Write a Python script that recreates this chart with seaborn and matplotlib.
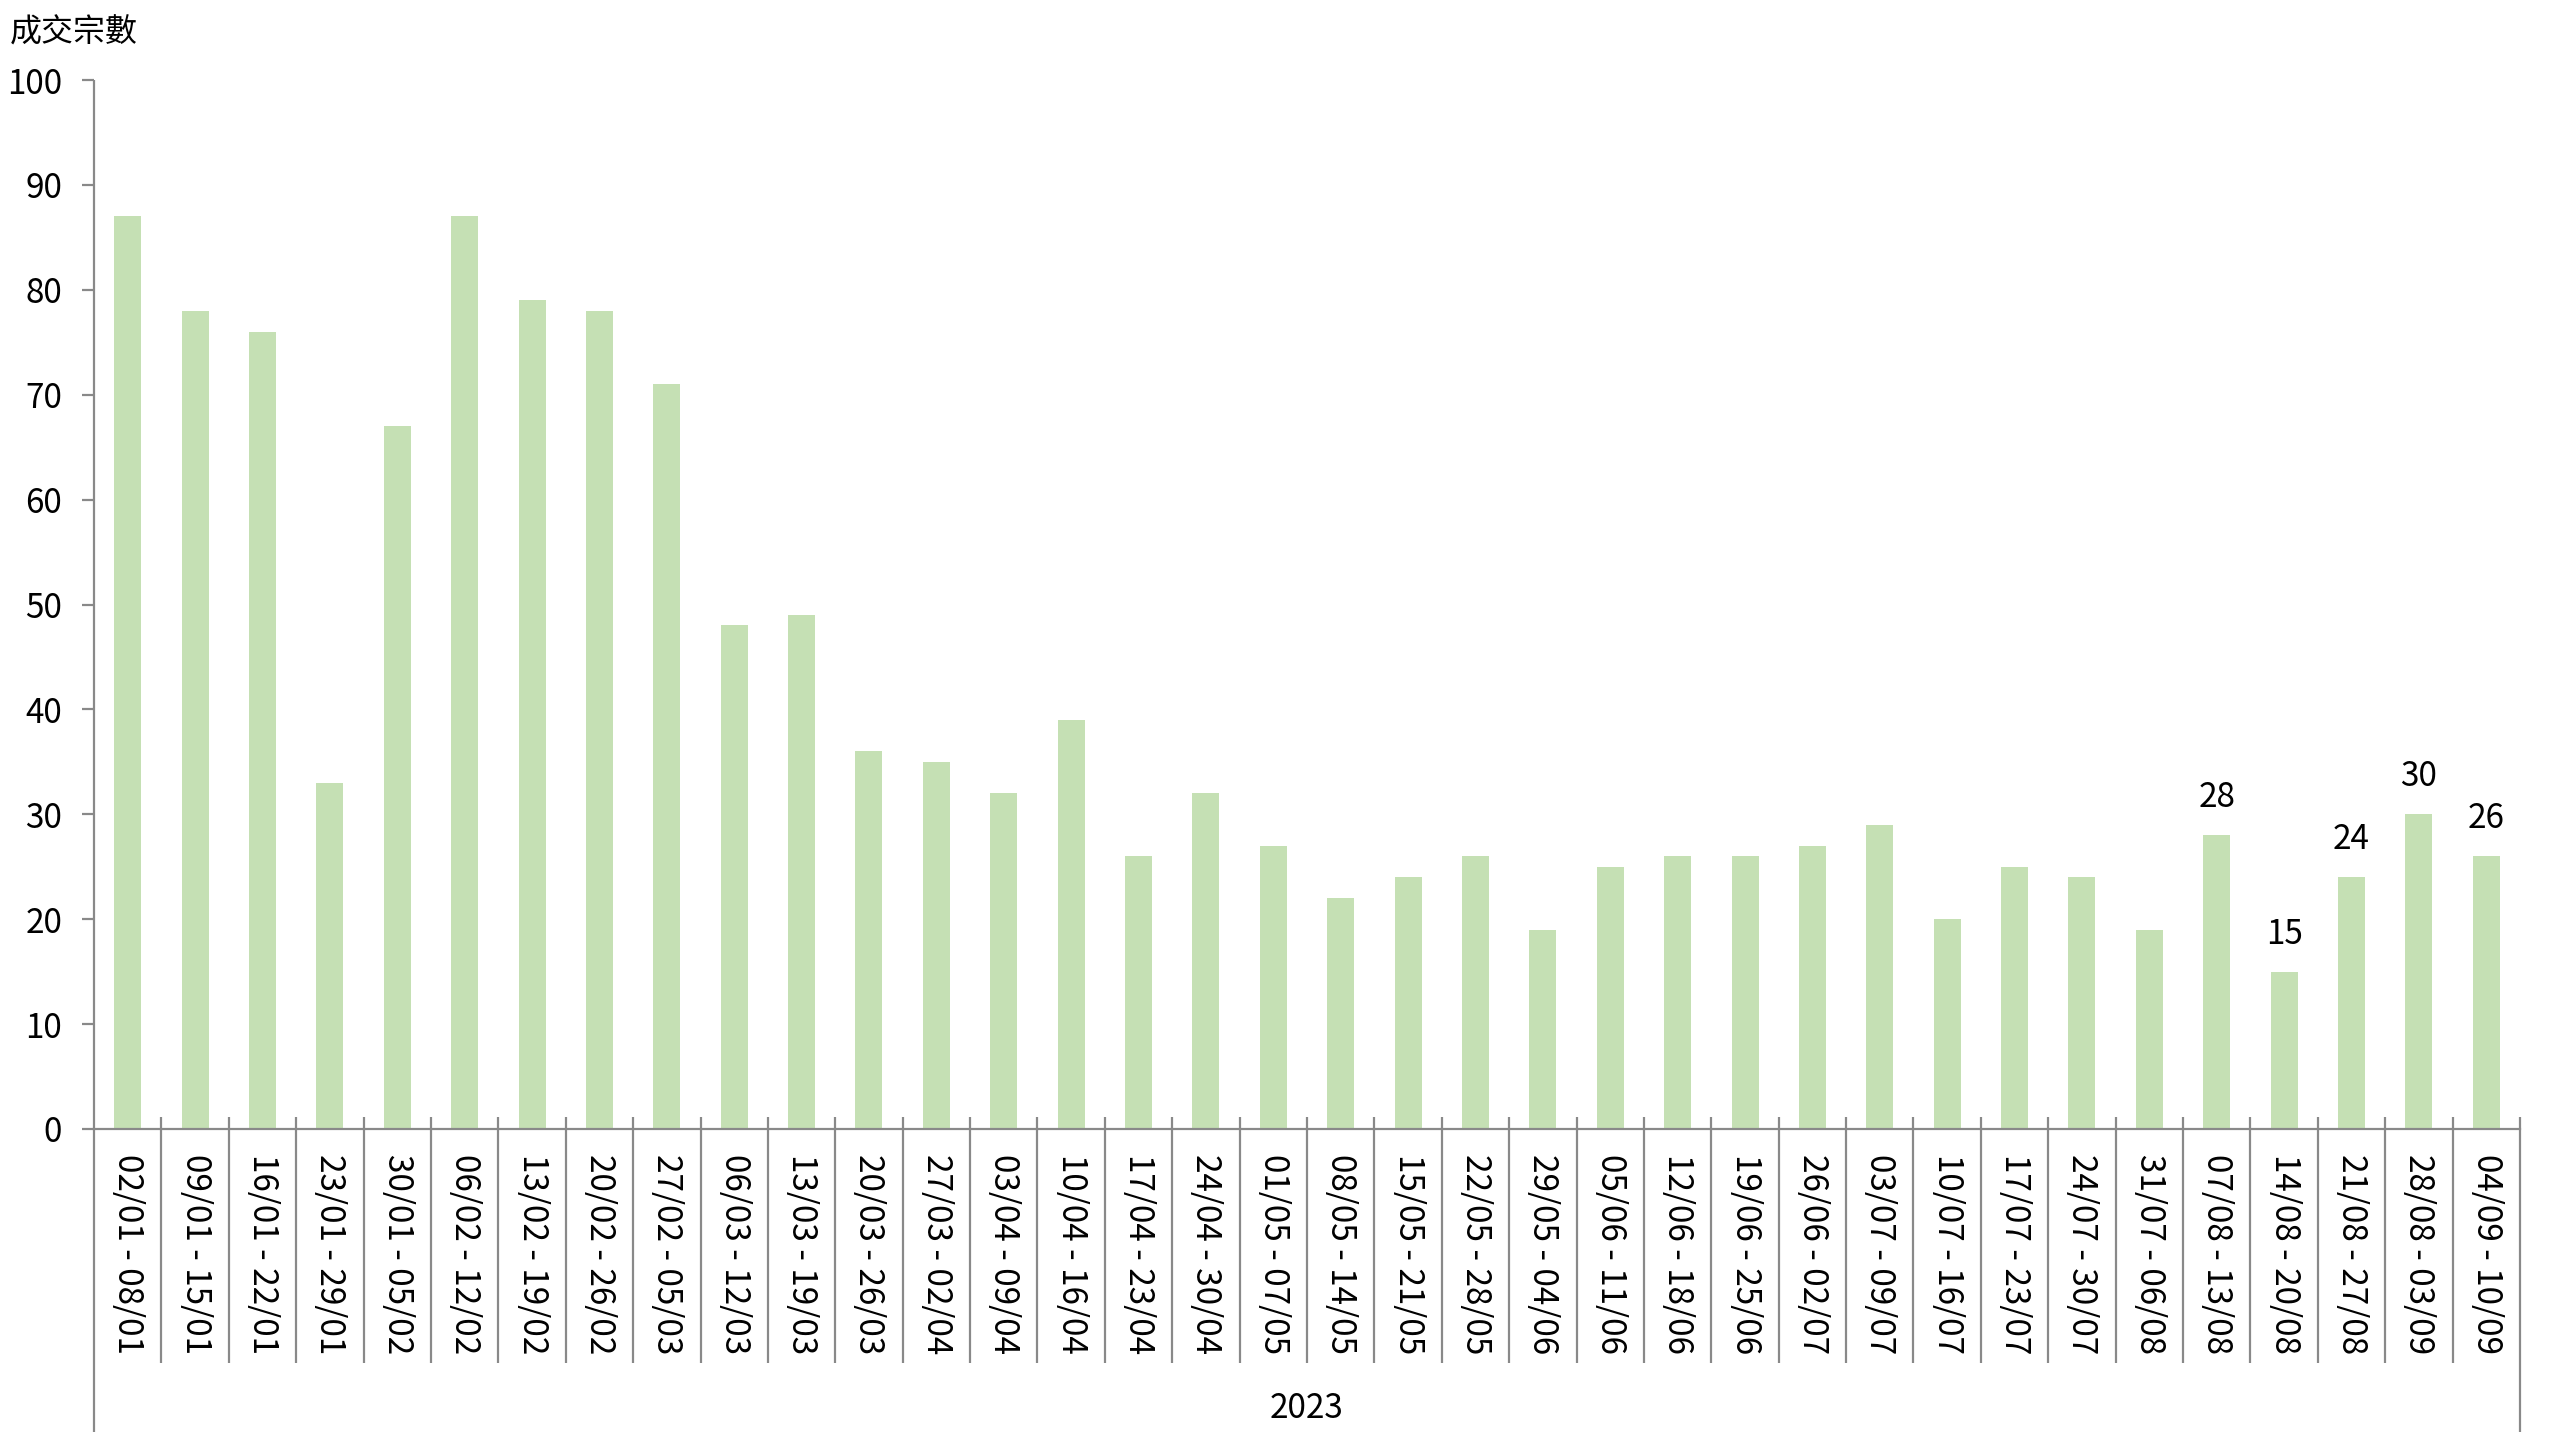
import matplotlib
matplotlib.use("Agg")
import matplotlib.pyplot as plt
import seaborn as sns
import pandas as pd

weeks = [
    "02/01 - 08/01", "09/01 - 15/01", "16/01 - 22/01", "23/01 - 29/01", "30/01 - 05/02",
    "06/02 - 12/02", "13/02 - 19/02", "20/02 - 26/02", "27/02 - 05/03", "06/03 - 12/03",
    "13/03 - 19/03", "20/03 - 26/03", "27/03 - 02/04", "03/04 - 09/04", "10/04 - 16/04",
    "17/04 - 23/04", "24/04 - 30/04", "01/05 - 07/05", "08/05 - 14/05", "15/05 - 21/05",
    "22/05 - 28/05", "29/05 - 04/06", "05/06 - 11/06", "12/06 - 18/06", "19/06 - 25/06",
    "26/06 - 02/07", "03/07 - 09/07", "10/07 - 16/07", "17/07 - 23/07", "24/07 - 30/07",
    "31/07 - 06/08", "07/08 - 13/08", "14/08 - 20/08", "21/08 - 27/08", "28/08 - 03/09",
    "04/09 - 10/09",
]
deals = [87, 78, 76, 33, 67, 87, 79, 78, 71, 48,
         49, 36, 35, 32, 39, 26, 32, 27, 22, 24,
         26, 19, 25, 26, 26, 27, 29, 20, 25, 24,
         19, 28, 15, 24, 30, 26]
labelled_last = 5
year_label = "2023"
y_title = "成交宗數"
y_ticks = list(range(0, 101, 10))

sns.set_theme(style="white")
plt.rcParams["font.family"] = ["Noto Sans CJK TC", "DejaVu Sans"]

W, H = 2560, 1440
fig = plt.figure(figsize=(W / 100, H / 100), dpi=100)
ax_left, ax_right, ax_top, ax_bottom = 94, 2520, 80, 1129
ax = fig.add_axes([ax_left / W, 1 - ax_bottom / H, (ax_right - ax_left) / W, (ax_bottom - ax_top) / H])

df = pd.DataFrame({"week": weeks, "deals": deals})
bar_color = "#C5E0B4"
axis_gray = "#898989"
sns.barplot(data=df, x="week", y="deals", order=weeks, color=bar_color,
            saturation=1, width=0.4, linewidth=0, ax=ax)

n = len(weeks)
ax.set_xlim(-0.5, n - 0.5)
ax.set_ylim(0, 100)
ax.set_yticks(y_ticks)
ax.set_xlabel("")
ax.set_ylabel("")

for s in ["top", "right", "left"]:
    ax.spines[s].set_visible(False)
ax.spines["bottom"].set_color(axis_gray)
ax.spines["bottom"].set_linewidth(1.6)

ax.tick_params(axis="y", which="both", left=True, length=9, width=1.6, color=axis_gray,
               labelsize=24, pad=14, labelcolor="black")
ax.tick_params(axis="x", which="both", bottom=False, length=0, labelsize=24, pad=18,
               labelcolor="black")
for lbl in ax.get_xticklabels():
    lbl.set_rotation(270)
    lbl.set_ha("center")
    lbl.set_va("top")

axh = ax_bottom - ax_top
trans = ax.get_xaxis_transform()
sep_top = 12 / axh
sep_bot = -(1363 - ax_bottom) / axh
long_bot = -(1432 - ax_bottom) / axh
# left spine (extended)
ax.plot([-0.5, -0.5], [1, long_bot], transform=trans, color=axis_gray, lw=1.6,
        clip_on=False, solid_capstyle="butt")
# category separators
for i in range(1, n):
    ax.plot([i - 0.5, i - 0.5], [sep_top, sep_bot], transform=trans, color=axis_gray,
            lw=1.6, clip_on=False, solid_capstyle="butt")
# right end separator (extended)
ax.plot([n - 0.5, n - 0.5], [sep_top, long_bot], transform=trans, color=axis_gray,
        lw=1.6, clip_on=False, solid_capstyle="butt")

# year label
ax.text(0.5, -(1408 - ax_bottom) / axh, year_label, transform=ax.transAxes,
        ha="center", va="center", fontsize=24, color="black")

# data labels on last bars
for i in range(n - labelled_last, n):
    ax.annotate(str(deals[i]), xy=(i, deals[i]), xytext=(0, 27), textcoords="offset points",
                ha="center", va="center", fontsize=24, color="black")

fig.text(10 / W, 1 - 33 / H, y_title, ha="left", va="center", fontsize=23, color="black")

fig.savefig("out.png", dpi=100, facecolor="white")
